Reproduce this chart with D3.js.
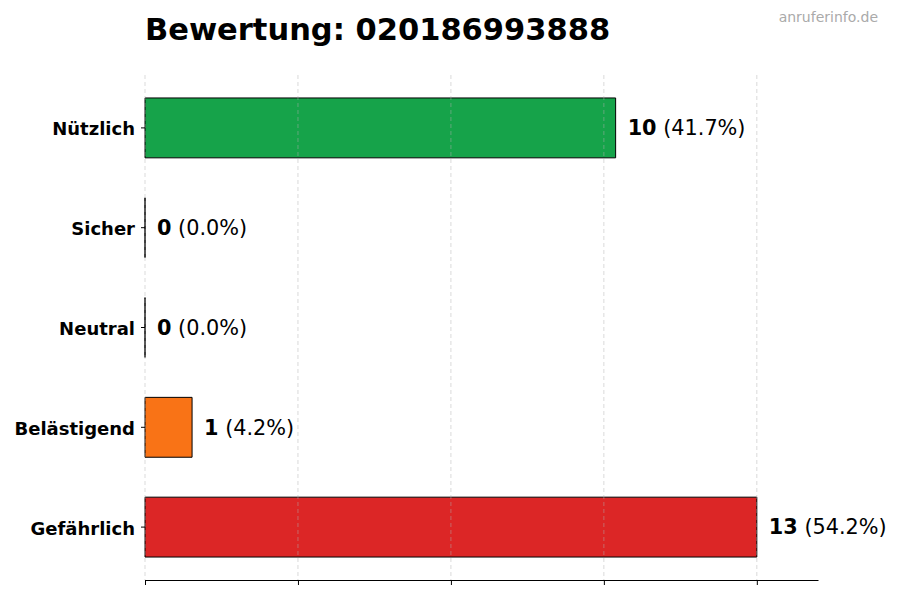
<!DOCTYPE html>
<html lang="de">
<head>
<meta charset="UTF-8">
<title>Bewertung</title>
<script src="https://d3js.org/d3.v7.min.js"></script>
<style>
  body, html { margin: 0; background: #fff; }
  text { font-family: "DejaVu Sans", sans-serif; }
</style>
</head>
<body>
<div id="chart"></div>
<script>
// Data
const categories = ["Nützlich", "Sicher", "Neutral", "Belästigend", "Gefährlich"];
const counts = [10, 0, 0, 1, 13];
const colors = ["#16a34a", "#16a34a", "#9ca3af", "#f97316", "#dc2626"];
const title = "Bewertung: 020186993888";
const watermark = "anruferinfo.de";

const width = 900, height = 600;
const margin = {top: 75, right: 82, bottom: 20, left: 145};
const total = d3.sum(counts);
const maxVal = d3.max(counts);

const svg = d3.select("#chart").append("svg")
    .attr("width", width)
    .attr("height", height);

const x = d3.scaleLinear()
    .domain([0, maxVal * 1.1])
    .range([margin.left, width - margin.right]);

const y = d3.scaleBand()
    .domain(categories)
    .range([margin.top, height - margin.bottom])
    .paddingInner(0.4)
    .paddingOuter(0.23);

const ticks = d3.range(5).map(i => maxVal * i / 4);

// Bars as paths so zero-width bars still show their edge
svg.append("g")
  .selectAll("path")
  .data(categories)
  .join("path")
    .attr("d", (d, i) => {
      const x0 = x(0), x1 = x(counts[i]), y0 = y(d), y1 = y(d) + y.bandwidth();
      return `M${x0},${y0}H${x1}V${y1}H${x0}Z`;
    })
    .attr("fill", (d, i) => colors[i])
    .attr("stroke", "#000")
    .attr("stroke-width", 1);

// Grid (drawn above bars, faint)
svg.append("g")
  .selectAll("line")
  .data(ticks)
  .join("line")
    .attr("x1", d => x(d)).attr("x2", d => x(d))
    .attr("y1", margin.top).attr("y2", height - margin.bottom)
    .attr("stroke", "#b0b0b0")
    .attr("stroke-opacity", 0.6)
    .attr("stroke-dasharray", "4,3")
    .attr("stroke-width", 0.8);

// X axis (no labels)
svg.append("g")
    .attr("transform", `translate(0,${height - margin.bottom})`)
    .call(d3.axisBottom(x).tickValues(ticks).tickFormat("").tickSize(5).tickSizeOuter(0))
    .call(g => g.select(".domain").attr("stroke", "#000"))
    .call(g => g.selectAll(".tick line").attr("stroke", "#000"));

// Y axis
svg.append("g")
    .attr("transform", `translate(${margin.left},0)`)
    .call(d3.axisLeft(y).tickSize(4).tickPadding(6))
    .call(g => g.select(".domain").remove())
    .call(g => g.selectAll(".tick line").attr("stroke", "#000"))
    .call(g => g.selectAll(".tick text")
        .attr("font-size", 18)
        .attr("dy", "0.42em")
        .attr("font-weight", "bold")
        .attr("fill", "#000"));

// Value labels
const lbl = svg.append("g")
  .selectAll("text")
  .data(categories)
  .join("text")
    .attr("x", (d, i) => x(counts[i]) + 12)
    .attr("y", d => y(d) + y.bandwidth() / 2)
    .attr("dy", "0.35em")
    .attr("font-size", 20.8)
    .attr("fill", "#000");
lbl.append("tspan")
    .attr("font-weight", "bold")
    .text((d, i) => counts[i]);
lbl.append("tspan")
    .text((d, i) => ` (${(counts[i] / total * 100).toFixed(1)}%)`);

// Title
svg.append("text")
    .attr("x", margin.left)
    .attr("y", 40)
    .attr("font-size", 30.5)
    .attr("font-weight", "bold")
    .attr("fill", "#000")
    .text(title);

// Watermark
svg.append("text")
    .attr("x", 878)
    .attr("y", 22)
    .attr("text-anchor", "end")
    .attr("font-size", 14)
    .attr("fill", "#aaaaaa")
    .text(watermark);
</script>
</body>
</html>
